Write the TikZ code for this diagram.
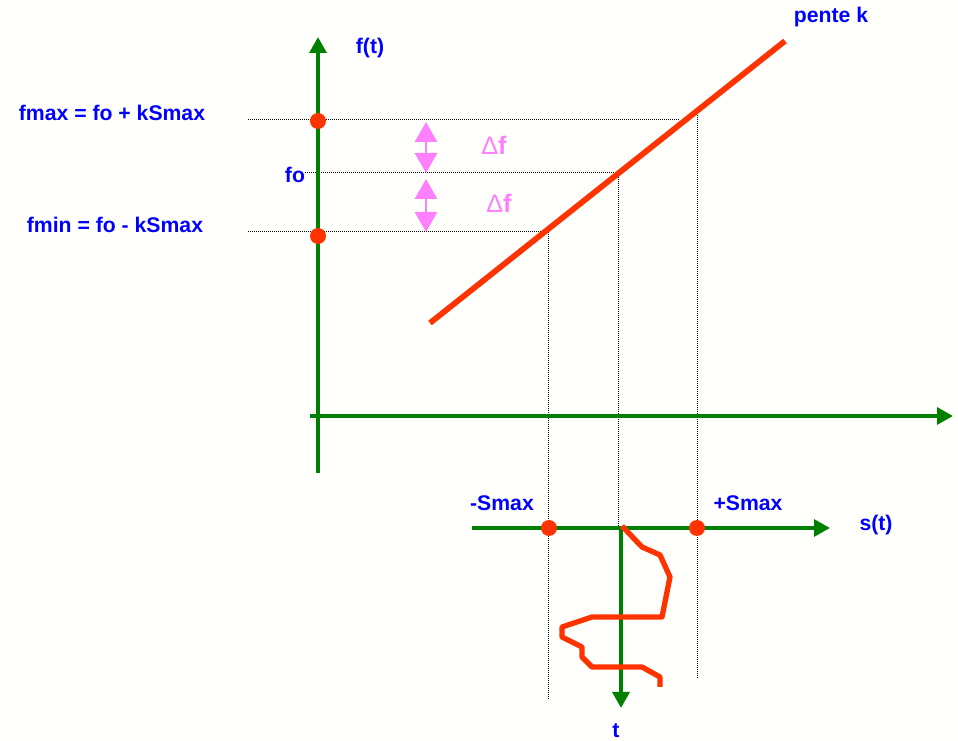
\documentclass[tikz,border=0pt]{standalone}
\usepackage{fontspec}
\setmainfont{Liberation Sans}
\usetikzlibrary{arrows.meta}
\definecolor{bgcol}{RGB}{255,255,252}
\definecolor{axgreen}{RGB}{0,128,0}
\definecolor{redline}{RGB}{255,51,0}
\definecolor{lblblue}{RGB}{0,0,255}
\definecolor{dfpink}{RGB}{255,128,255}
\tikzset{
  lbl/.style={text=lblblue, font=\bfseries\fontsize{15.9}{19}\selectfont, inner sep=0pt},
  dflbl/.style={text=dfpink, font=\bfseries\fontsize{19}{22}\selectfont, inner sep=0pt},
  axisline/.style={draw=axgreen, line width=3pt, -{Triangle[length=12pt,width=12.5pt]}},
  guide/.style={draw=black, line width=0.75pt, dash pattern=on 0.75pt off 0.75pt},
  dotmark/.style={circle, fill=redline, minimum size=12pt, inner sep=0pt},
  redcurve/.style={draw=redline, line width=4.3pt},
  dfarrow/.style={draw=dfpink, line width=2.2pt, {Triangle[length=15pt,width=16.5pt]}-{Triangle[length=15pt,width=16.5pt]}},
}
\begin{document}
\begin{tikzpicture}[x=0.75pt,y=-0.75pt]
\fill[bgcol] (0,0) rectangle (958,741);
\useasboundingbox (0,0) rectangle (958,741);

% coordinates
\coordinate (fBot) at (318,473);
\coordinate (fTop) at (318,37);
\coordinate (xL) at (310,416);
\coordinate (xR) at (953,416);
\coordinate (sL) at (472,528);
\coordinate (sR) at (830,528);
\coordinate (tTop) at (621,528);
\coordinate (tBot) at (621,708);
\coordinate (kA) at (430,323);
\coordinate (kB) at (785,41);

% guide lines
\coordinate (gmaxL) at (248,120);
\coordinate (gmaxR) at (680,120);
\coordinate (gfoL) at (305,173);
\coordinate (gfoR) at (618,173);
\coordinate (gminL) at (248,232);
\coordinate (gminR) at (548,232);
\coordinate (vLtop) at (548,232);
\coordinate (vLbot) at (548,700);
\coordinate (vMtop) at (618,173);
\coordinate (vMbot) at (618,528);
\coordinate (vRtop) at (697,111);
\coordinate (vRbot) at (697,678);

\draw[guide] (gmaxL) -- (gmaxR);
\draw[guide] (gfoL) -- (gfoR);
\draw[guide] (gminL) -- (gminR);
\draw[guide] (vLtop) -- (vLbot);
\draw[guide] (vMtop) -- (vMbot);
\draw[guide] (vRtop) -- (vRbot);

% axes
\draw[axisline] (fBot) -- (fTop);
\draw[axisline] (xL) -- (xR);
\draw[axisline] (sL) -- (sR);
\draw[axisline] (tTop) -- (tBot);

% slope line
\draw[redcurve] (kA) -- (kB);

% signal squiggle
\draw[redcurve, line width=4pt, line join=round]
  (622,526) -- (642,547) -- (660,555) -- (670,577) -- (662,617) -- (592,617)
  -- (562,627) -- (562,637) -- (582,647) -- (582,657) -- (592,667) -- (642,667)
  -- (660,677) -- (660,687);

% dots
\node[dotmark] (dmax) at (318,121) {};
\node[dotmark] (dmin) at (318,236) {};
\node[dotmark] (dsm) at (549,528) {};
\node[dotmark] (dsp) at (697,528) {};

% delta f arrows
\coordinate (df1a) at (426,122);
\coordinate (df1b) at (426,173);
\coordinate (df2a) at (426,179);
\coordinate (df2b) at (426,232);
\draw[dfarrow] (df1a) -- (df1b);
\draw[dfarrow] (df2a) -- (df2b);
\node[dflbl] (df1) at (494,145) {{\mdseries Δ}f};
\node[dflbl] (df2) at (499,203) {{\mdseries Δ}f};

% labels
\node[lbl] (fmaxlbl) at (112,113) {fmax = fo + kSmax};
\node[lbl] (fminlbl) at (115,225) {fmin = fo - kSmax};
\node[lbl] (folbl) at (295,175) {fo};
\node[lbl] (ftlbl) at (370,48) {f(t)};
\node[lbl] (pente) at (831,17) {pente k};
\node[lbl] (smlbl) at (502,503) {-Smax};
\node[lbl] (splbl) at (748,503) {+Smax};
\node[lbl] (stlbl) at (876,525) {s(t)};
\node[lbl] (tlbl) at (616,731) {t};
\end{tikzpicture}
\end{document}
